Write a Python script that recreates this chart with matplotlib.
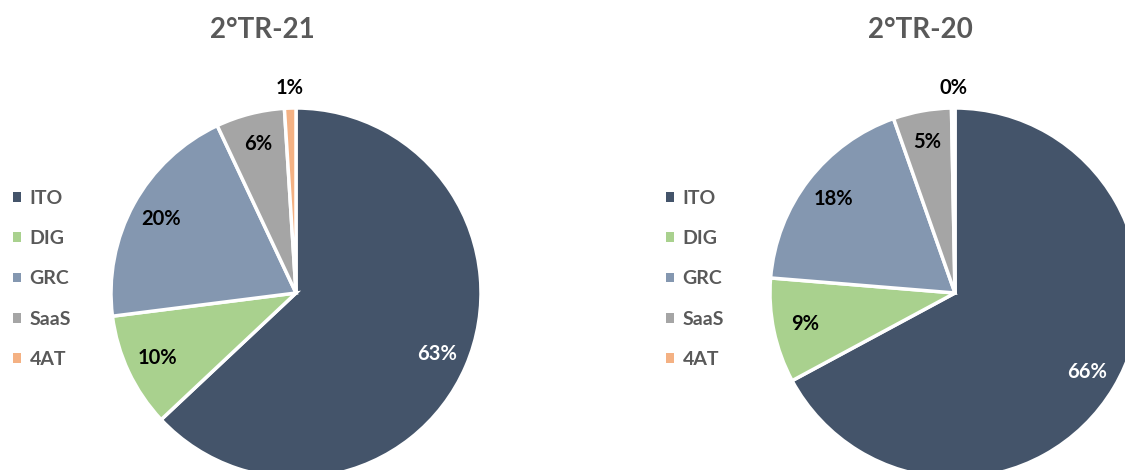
import matplotlib
matplotlib.use("Agg")
import matplotlib.pyplot as plt
import numpy as np

# dados
segments = ["ITO", "DIG", "GRC", "SaaS", "4AT"]
share_21 = [63, 10, 20, 6, 1]
share_20 = [66, 9, 18, 5, 0.3]
titles = ["2°TR-21", "2°TR-20"]

colors = ["#44546A", "#A9D18E", "#8497B0", "#A5A5A5", "#F4B183"]
label_colors = ["white", "black", "black", "black", "black"]

plt.rcParams['font.family'] = ['Lato', 'DejaVu Sans']

W, H = 1125, 470
fig = plt.figure(figsize=(W / 100, H / 100), dpi=100)
ax = fig.add_axes([0, 0, 1, 1])

pie_specs = [
    (share_21, (296, H - 293), 262, 13),
    (share_20, (955, H - 293), 920, 666),
]
R = 185

legends = []
for (values, center, title_x, leg_x), title in zip(pie_specs, titles):
    wedges, _ = ax.pie(values, colors=colors, startangle=90, counterclock=False,
                       center=center, radius=R, frame=True,
                       wedgeprops=dict(edgecolor="white", linewidth=2.5))
    total = sum(values)
    for w, v, tc in zip(wedges, values, label_colors):
        theta = np.deg2rad((w.theta1 + w.theta2) / 2)
        d = 0.83 if v / total > 0.03 else 1.11
        x = center[0] + d * R * np.cos(theta)
        y = center[1] + d * R * np.sin(theta)
        ax.text(x, y, f"{v:.0f}%", ha="center", va="center", fontsize=14.5,
                fontweight="bold", color=tc)
    ax.text(title_x, H - 30, title, ha="center", va="center", fontsize=20,
            fontweight="bold", color="#595959")
    leg = ax.legend(wedges, segments, loc="center left",
                    bbox_to_anchor=(leg_x, H - 279), bbox_transform=ax.transData,
                    frameon=False, borderpad=0, borderaxespad=0,
                    handlelength=0.4, handleheight=0.4, handletextpad=0.45,
                    labelspacing=1.2, prop=dict(size=14, weight="bold"),
                    labelcolor="#595959")
    for h in leg.legend_handles:
        h.set_linewidth(0)
    legends.append(leg)

for leg in legends[:-1]:
    ax.add_artist(leg)

ax.set_xlim(0, W)
ax.set_ylim(0, H)
ax.set_aspect("equal")
ax.axis("off")

fig.savefig("out.png", dpi=100, facecolor="white")
